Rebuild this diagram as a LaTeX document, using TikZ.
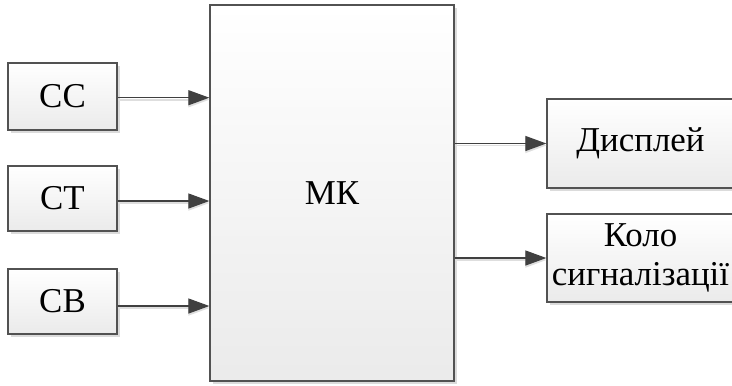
\documentclass[tikz,border=0pt]{standalone}
\usepackage{fontspec}
\setmainfont{Liberation Serif}
\usetikzlibrary{arrows.meta,calc,shadows}
\tikzset{
  blk/.style={draw=black!68, line width=1.3bp, inner sep=0pt,
    top color=white, bottom color=black!8,
    font=\fontsize{35}{39}\selectfont, align=center,
    drop shadow={shadow xshift=3bp, shadow yshift=-3bp, fill=black!14, opacity=1}},
  link/.style={draw=black!75, line width=1.2bp,
    -{Triangle[length=21bp,width=15bp]}},
  linkshade/.style={draw=black!13, line width=1.8bp, -{Triangle[length=21bp,width=15bp]}},
}
\begin{document}
\begin{tikzpicture}[x=1bp,y=-1bp]
  \useasboundingbox (0,0) rectangle (732,385);
  \clip (0,0) rectangle (732,385);

  % sensor blocks
  \node[blk, minimum width=109bp, minimum height=67bp] (cc) at (62.5,96.5) {CC};
  \node[blk, minimum width=109bp, minimum height=65bp] (ct) at (62.5,198.5) {CT};
  \node[blk, minimum width=109bp, minimum height=65bp] (cb) at (62.5,301.5) {CB};

  % microcontroller
  \node[blk, minimum width=244bp, minimum height=376bp] (mk) at (332,193) {МК};

  % outputs
  \node[blk, minimum width=187bp, minimum height=89bp] (disp) at (640.5,143.5) {Дисплей};
  \node[blk, minimum width=187bp, minimum height=88bp] (alarm) at (640.5,258)
    {Коло\\сигналізації};

  % input connectors
  \coordinate (a1) at ($(cc.east)+(0,1.2)$);
  \coordinate (a2) at ($(ct.east)+(0,2.5)$);
  \coordinate (a3) at ($(cb.east)+(0,4.5)$);
  \foreach \c in {a1,a2,a3}{
    \draw[linkshade] ($(\c)+(0,2)$) -- ($(\c -| mk.west)+(0,2)$);
    \draw[link] (\c) -- (\c -| mk.west);
  }

  % output connectors
  \coordinate (b1) at (disp.west);
  \coordinate (b2) at (alarm.west);
  \foreach \c in {b1,b2}{
    \draw[linkshade] ($(\c -| mk.east)+(0,2)$) -- ($(\c)+(0,2)$);
    \draw[link] (\c -| mk.east) -- (\c);
  }
\end{tikzpicture}
\end{document}
